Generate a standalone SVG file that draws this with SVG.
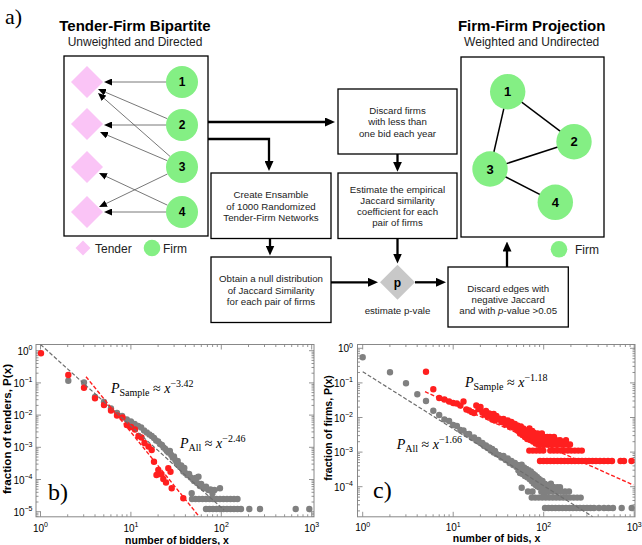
<svg xmlns="http://www.w3.org/2000/svg" width="642" height="545" viewBox="0 0 642 545">
<defs>
<style>
text{font-family:"Liberation Sans",Arial,sans-serif;fill:#000;}
.ser{font-family:"Liberation Serif","Times New Roman",serif;}
.ttl{font-size:15px;font-weight:bold;text-anchor:middle;}
.sub{font-size:12px;text-anchor:middle;fill:#222;}
.box{fill:#fff;stroke:#000;stroke-width:1.3;}
.frm{fill:#fff;stroke:#000;stroke-width:1.3;}
.bt{font-size:9.7px;text-anchor:middle;fill:#222;}
.ten{fill:#fac4f6;}
.firm{fill:#84ef84;}
.num{font-size:12px;font-weight:bold;text-anchor:middle;}
.num2{font-size:13px;font-weight:bold;text-anchor:middle;}
.leg{font-size:12px;fill:#222;}
.thin{stroke:#555;stroke-width:0.8;fill:none;marker-end:url(#ah);}
.thick{stroke:#000;stroke-width:2.3;fill:none;marker-end:url(#AH);}
.edge{stroke:#000;stroke-width:1.5;fill:none;}
.frame{fill:#fff;stroke:#888;stroke-width:1;}
.tick{stroke:#777;stroke-width:0.8;fill:none;}
.tl{font-size:10px;}
.axt{font-size:10.5px;font-weight:bold;text-anchor:middle;}
.dg{stroke:#808080;stroke-width:6.4;stroke-linecap:round;fill:none;}
.dr{stroke:#ff1f1f;stroke-width:6.4;stroke-linecap:round;fill:none;}
.dashr{stroke:#ff1f1f;stroke-width:1.4;stroke-dasharray:4 2;fill:none;}
.dashg{stroke:#6e6e6e;stroke-width:1.2;stroke-dasharray:4 2;fill:none;}
.math{font-family:"Liberation Serif","Times New Roman",serif;font-size:14px;}
</style>
<marker id="ah" markerUnits="userSpaceOnUse" markerWidth="8" markerHeight="7" refX="2" refY="3.5" orient="auto"><path d="M0,0L8,3.5L0,7z" fill="#000"/></marker>
<marker id="AH" markerUnits="userSpaceOnUse" markerWidth="10" markerHeight="9" refX="3" refY="4.5" orient="auto"><path d="M0,0L10,4.5L0,9z" fill="#000"/></marker>
<clipPath id="cb"><rect x="36" y="344.5" width="278" height="172.3"/></clipPath>
<clipPath id="cc"><rect x="357.5" y="344.5" width="277.5" height="172.3"/></clipPath>
<path id="xdec" class="tick" d="M0 516.8v-5M0 344.5v5M27.2 516.8v-2.5M27.2 344.5v2.5M43.2 516.8v-2.5M43.2 344.5v2.5M54.5 516.8v-2.5M54.5 344.5v2.5M63.3 516.8v-2.5M63.3 344.5v2.5M70.4 516.8v-2.5M70.4 344.5v2.5M76.5 516.8v-2.5M76.5 344.5v2.5M81.7 516.8v-2.5M81.7 344.5v2.5M86.4 516.8v-2.5M86.4 344.5v2.5"/>
<path id="ydB" class="tick" d="M36 0h5M314 0h-5M36 -9.7h2.5M314 -9.7h-2.5M36 -15.4h2.5M314 -15.4h-2.5M36 -19.4h2.5M314 -19.4h-2.5M36 -22.5h2.5M314 -22.5h-2.5M36 -25.1h2.5M314 -25.1h-2.5M36 -27.2h2.5M314 -27.2h-2.5M36 -29.1h2.5M314 -29.1h-2.5M36 -30.7h2.5M314 -30.7h-2.5"/>
<path id="ydC" class="tick" d="M357.5 0h5M635 0h-5M357.5 -10.4h2.5M635 -10.4h-2.5M357.5 -16.5h2.5M635 -16.5h-2.5M357.5 -20.8h2.5M635 -20.8h-2.5M357.5 -24.2h2.5M635 -24.2h-2.5M357.5 -26.9h2.5M635 -26.9h-2.5M357.5 -29.2h2.5M635 -29.2h-2.5M357.5 -31.2h2.5M635 -31.2h-2.5M357.5 -33h2.5M635 -33h-2.5"/>
</defs>
<rect width="642" height="545" fill="#fff"/>

<text class="ser" x="5" y="24" font-size="22">a)</text>

<!-- Titles -->
<text class="ttl" x="135" y="31">Tender-Firm Bipartite</text>
<text class="sub" x="135" y="46">Unweighted and Directed</text>
<text class="ttl" x="531.7" y="31">Firm-Firm Projection</text>
<text class="sub" x="531.7" y="46">Weighted and Undirected</text>

<!-- Frames -->
<rect class="frm" x="64" y="56" width="144" height="180"/>
<rect class="frm" x="461" y="57" width="143" height="180"/>

<!-- Connectors -->
<g id="connectors">
<path class="thin" d="M166 82H110"/>
<path class="thin" d="M167.3 118.7L103.5 91.4"/>
<path class="thin" d="M170 156.4L102.5 97"/>
<path class="thin" d="M166 125H110"/>
<path class="thin" d="M167.3 160.7L105.5 134.4"/>
<path class="thin" d="M167.5 205.2L104.4 175.6"/>
<path class="thin" d="M167.6 173.9L104.4 204.4"/>
<path class="thin" d="M166 212H110"/>
<path class="thick" d="M208 122H328"/>
<path class="thick" d="M208 139H269V164"/>
<path class="thick" d="M397.5 154V164.7"/>
<path class="thick" d="M270 238.5V248.5"/>
<path class="thick" d="M331 282.3H371"/>
<path class="thick" d="M397.5 238.5V256.5"/>
<path class="thick" d="M415 282.3H439"/>
<path class="thick" d="M507 267V248.5"/>
<path class="edge" d="M507.7 91.7L574 141.7"/>
<path class="edge" d="M507.7 91.7L490 169"/>
<path class="edge" d="M574 141.7L490 169" stroke-width="4"/>
<path class="edge" d="M490 169L555.3 202.3"/>
</g>

<!-- Bipartite nodes -->
<g id="tender1"><polygon class="ten" points="87,66 103,82 87,98 71,82"/></g>
<g id="tender2"><polygon class="ten" points="87,108 103,124 87,140 71,124"/></g>
<g id="tender3"><polygon class="ten" points="87,151 103,167 87,183 71,167"/></g>
<g id="tender4"><polygon class="ten" points="87,196 103,212 87,228 71,212"/></g>
<g id="firm1"><circle class="firm" cx="182" cy="82" r="16"/><text class="num" x="182" y="86.3">1</text></g>
<g id="firm2"><circle class="firm" cx="182" cy="125" r="16"/><text class="num" x="182" y="129.3">2</text></g>
<g id="firm3"><circle class="firm" cx="182" cy="167" r="16"/><text class="num" x="182" y="171.3">3</text></g>
<g id="firm4"><circle class="firm" cx="182" cy="212" r="16"/><text class="num" x="182" y="216.3">4</text></g>

<g id="legend-left">
<polygon class="ten" points="83,240.5 90.5,248 83,255.5 75.5,248"/>
<text class="leg" x="95" y="252.5">Tender</text>
<circle class="firm" cx="152" cy="248" r="8.3"/>
<text class="leg" x="163" y="252.5">Firm</text>
</g>

<!-- Projection nodes -->
<g id="pfirm1"><circle class="firm" cx="507.7" cy="91.7" r="17.7"/><text class="num2" x="507.7" y="96.2">1</text></g>
<g id="pfirm2"><circle class="firm" cx="574" cy="141.7" r="17.7"/><text class="num2" x="574" y="146.2">2</text></g>
<g id="pfirm3"><circle class="firm" cx="490" cy="169" r="17.7"/><text class="num2" x="490" y="173.5">3</text></g>
<g id="pfirm4"><circle class="firm" cx="555.3" cy="202.3" r="17.7"/><text class="num2" x="555.3" y="206.8">4</text></g>
<g id="legend-right">
<circle class="firm" cx="559" cy="249.3" r="8.3"/>
<text class="leg" x="575" y="253.8">Firm</text>
</g>

<!-- Flowchart boxes -->
<g id="box-discard-firms">
<rect class="box" x="338" y="89" width="119" height="65"/>
<text class="bt" x="397.5" y="114">Discard firms</text>
<text class="bt" x="397.5" y="125.3">with less than</text>
<text class="bt" x="397.5" y="136.6">one bid each year</text>
</g>
<g id="box-estimate">
<rect class="box" x="338" y="173" width="119" height="65.5"/>
<text class="bt" x="397.5" y="192.7">Estimate the empirical</text>
<text class="bt" x="397.5" y="204">Jaccard similarity</text>
<text class="bt" x="397.5" y="215.2">coefficient for each</text>
<text class="bt" x="397.5" y="226.4">pair of firms</text>
</g>
<g id="box-create">
<rect class="box" x="211" y="173" width="120" height="65.5"/>
<text class="bt" x="271" y="198.3">Create Ensamble</text>
<text class="bt" x="271" y="209.6">of 1000 Randomized</text>
<text class="bt" x="271" y="220.9">Tender-Firm Networks</text>
</g>
<g id="box-obtain">
<rect class="box" x="211" y="257" width="120" height="65.5"/>
<text class="bt" x="271" y="282.3">Obtain a null distribution</text>
<text class="bt" x="271" y="293.5">of Jaccard Similarity</text>
<text class="bt" x="271" y="304.6">for each pair of firms</text>
</g>
<g id="node-p">
<polygon points="397.5,264.8 415,282.3 397.5,299.8 380,282.3" fill="#c8c8c8"/>
<text class="num" x="397.5" y="286.5">p</text>
<text class="bt" x="397.5" y="314.3">estimate p-vale</text>
</g>
<g id="box-discard-edges">
<rect class="box" x="448" y="267" width="120.3" height="60"/>
<text class="bt" x="508.2" y="292.3">Discard edges with</text>
<text class="bt" x="508.2" y="303.4">negative Jaccard</text>
<text class="bt" x="508.2" y="314.4">and with <tspan font-style="italic">p</tspan>-value &gt;0.05</text>
</g>

<!-- Plot b -->
<g id="plot-b">
<rect class="frame" x="36" y="344.5" width="278" height="172.3"/>
<g clip-path="url(#cb)">
<use href="#xdec" x="40.5"/><use href="#xdec" x="130.9"/><use href="#xdec" x="221.3"/><use href="#xdec" x="311.7"/>
<use href="#ydB" y="350.7"/><use href="#ydB" y="382.9"/><use href="#ydB" y="415.1"/><use href="#ydB" y="447.3"/><use href="#ydB" y="479.5"/><use href="#ydB" y="511.7"/><use href="#ydB" y="543.9"/>
<path class="dg" d="M68.3 380.7h0M84 382.5h0M95 397h0M104 402h0M111 408.5h0M117 413h0M122.1 416h0M126.8 419.5h0M130.9 421.5h0M134.6 424h0M138.1 426h0M141.2 427.5h0M144.1 430.5h0M146.8 432.5h0M149.4 434.5h0M151.7 436h0M154 438h0M156.1 440.5h0M158.1 441.5h0M160 444h0M161.9 445h0M163.6 447.5h0M165.3 449h0M166.9 451h0M168.4 452.5h0M169.9 451h0M171.3 455h0M172.7 457.5h0M174 456.5h0M175.3 460h0M176.5 462.5h0M177.7 461h0M178.9 465h0M180.1 467h0M181.2 465.5h0M182.3 469h0M183.3 471.5h0M184.3 468h0M185.3 473h0M187.2 475h0M189.1 474h0M190.8 477.5h0M192.5 479h0M194.1 481h0M195.6 478h0M197.1 483h0M198.5 476.7h0M199.9 486h0M201.2 484h0M203.7 488.3h0M206.1 486.7h0M208.4 490h0M210.5 489.5h0M212.5 493.3h0M214.5 490h0M220 488.3h0M191.7 493.3h0
M192 499h0M195.5 499h0M199 499h0M202.5 499h0M206 499h0M209.5 499h0M213 499h0M216.5 499h0M220 499h0M223.5 499h0M227 499h0M230.5 499h0M234 499h0M237.5 499h0
M206 509h0M209.5 509h0M213 509h0M216.5 509h0M220 509h0M223.5 509h0M227 509h0M230.5 509h0M234 509h0M237.5 509h0M241 509h0M249.3 509h0M260 509h0M295.7 509h0M309.3 509h0"/>
<path class="dr" d="M41 353.3h0M68.3 375h0M84 387.7h0M95 398.3h0M104 405h0M111 410.5h0M117 415.5h0M122.5 417.5h0M126.8 425h0M131 427h0M135 429.5h0M138.5 436h0M141.5 437.5h0M144.5 443h0M148.5 446.5h0M151.7 450h0M154 461.7h0M158.3 470h0M156.5 475h0M161.5 474.5h0M163.3 479h0M166 482.5h0M168.3 468.3h0M170.5 471.7h0M171.7 488.3h0M183.3 498.3h0"/>
<path class="dashg" d="M40.5 344.5L224 510"/>
<path class="dashr" d="M86 376.7L199.3 516.7"/>
</g>
<text class="tl" x="40.5" y="531.5" text-anchor="middle">10<tspan dy="-4.5" font-size="7">0</tspan></text>
<text class="tl" x="130.9" y="531.5" text-anchor="middle">10<tspan dy="-4.5" font-size="7">1</tspan></text>
<text class="tl" x="221.3" y="531.5" text-anchor="middle">10<tspan dy="-4.5" font-size="7">2</tspan></text>
<text class="tl" x="311.7" y="531.5" text-anchor="middle">10<tspan dy="-4.5" font-size="7">3</tspan></text>
<text class="tl" x="32.5" y="354.7" text-anchor="end">10<tspan dy="-4.5" font-size="7">0</tspan></text>
<text class="tl" x="32.5" y="386.9" text-anchor="end">10<tspan dy="-4.5" font-size="7">−1</tspan></text>
<text class="tl" x="32.5" y="419.1" text-anchor="end">10<tspan dy="-4.5" font-size="7">−2</tspan></text>
<text class="tl" x="32.5" y="451.3" text-anchor="end">10<tspan dy="-4.5" font-size="7">−3</tspan></text>
<text class="tl" x="32.5" y="483.5" text-anchor="end">10<tspan dy="-4.5" font-size="7">−4</tspan></text>
<text class="tl" x="32.5" y="515.7" text-anchor="end">10<tspan dy="-4.5" font-size="7">−5</tspan></text>
<text class="axt" x="177" y="543.5">number of bidders, x</text>
<text class="axt" transform="translate(11,429) rotate(-90)" x="0" y="0" textLength="130" lengthAdjust="spacingAndGlyphs">fraction of tenders, P(x)</text>
<text class="ser" x="48" y="500" font-size="24">b)</text>
<text class="math" x="111" y="393" fill="#ff4d4d"><tspan font-style="italic">P</tspan><tspan font-size="10" dy="3">Sample</tspan><tspan dy="-3"> ≈ </tspan><tspan font-style="italic">x</tspan><tspan font-size="10" dy="-6">−3.42</tspan></text>
<text class="math" x="180" y="448" fill="#404040"><tspan font-style="italic">P</tspan><tspan font-size="10" dy="3">All</tspan><tspan dy="-3"> ≈ </tspan><tspan font-style="italic">x</tspan><tspan font-size="10" dy="-6">−2.46</tspan></text>
</g>

<!-- Plot c -->
<g id="plot-c">
<rect class="frame" x="357.5" y="344.5" width="277.5" height="172.3"/>
<g clip-path="url(#cc)">
<use href="#xdec" x="362.7"/><use href="#xdec" x="453.2"/><use href="#xdec" x="543.7"/><use href="#xdec" x="634.2"/>
<use href="#ydC" y="348.3"/><use href="#ydC" y="382.9"/><use href="#ydC" y="417.5"/><use href="#ydC" y="452.1"/><use href="#ydC" y="486.7"/><use href="#ydC" y="521.3"/>
<path class="dg" d="M362.7 357.3h0M390 372.3h0M406 383.3h0M417.3 394.3h0M426 401h0M433.3 410.7h0M439.2 415h0M444.4 419.5h0M449.1 421h0M453.2 425h0M456.9 426h0M460.4 430h0M463.5 430.5h0M466.4 434h0M469.1 434h0M471.7 437.5h0M474.1 437.5h0M476.3 440.5h0M478.4 440h0M480.5 443h0M482.4 443h0M484.2 446h0M486 445.5h0M487.6 448h0M489.2 447.5h0M490.8 450.5h0M492.2 449h0M493.7 452.5h0M495 451h0M496.4 454h0M498.9 455h0M501.3 457.5h0M503.5 456h0M505.7 460h0M507.7 458.5h0M509.6 463h0M511.4 461h0M513.2 465h0M514.9 463h0M516.5 467h0
M517.4 465h0M518.3 470.2h0M519.2 467.8h0M520 473.1h0M520.9 469.2h0M521.7 464.8h0M522.5 474h0M523.3 470.5h0M524.1 467.4h0M524.9 476.1h0M525.7 471.8h0M526.5 469h0M527.2 477.3h0M528 473.5h0M528.7 470.2h0M529.5 479h0M530.2 474.1h0M530.9 471.5h0M531.6 481h0M532.3 476.2h0M533 473.8h0M533.7 483.6h0M534.3 478.5h0M535 475.2h0M535.7 484.9h0M536.3 480.1h0M537 477h0M537.6 486.5h0M538.2 481.5h0M538.8 478.8h0M539.5 487.6h0M540.1 483h0M540.7 480.2h0M541.3 491.5h0M541.9 484.2h0M542.5 481h0M543.1 487.2h0M543.7 491.5h0M521.7 487.7h0
M544.5 483.8h0M545.5 487.2h0M546.4 491.5h0M547.3 485h0M549.1 487.2h0M550.9 483.8h0M552.7 488h0M554.5 487.2h0M557.2 487.2h0M560 487.2h0
M528 491.5h0M532.5 491.5h0M545 491.5h0M549 491.5h0M553 491.5h0M557 491.5h0M561 491.5h0M565 491.5h0M569 491.5h0
M531.7 497.6h0M535.2 497.6h0M538.7 497.6h0M542.2 497.6h0M545.7 497.6h0M549.2 497.6h0M552.7 497.6h0M556.2 497.6h0M559.7 497.6h0M563.2 497.6h0M566.7 497.6h0M570.2 497.6h0M573.7 497.6h0M577.2 497.6h0M580.7 497.6h0
M545 508h0M548.5 508h0M552 508h0M555.5 508h0M559 508h0M562.5 508h0M566 508h0M569.5 508h0M573 508h0M576.5 508h0M580 508h0M583.5 508h0M587 508h0M590.5 508h0M594 508h0M599 508h0M604 508h0M608.5 508h0M613 508h0M621.7 508h0M631.7 508h0"/>
<path class="dr" d="M426 371.7h0M433.3 389.3h0M439.2 398h0M444.4 399.5h0M449.1 401.5h0M453.2 403h0M456.9 403.5h0M460.4 405.5h0M463.5 401.5h0M466.4 409.5h0M469.1 410.5h0M471.7 412h0M474.1 413h0M476.3 405.5h0M478.4 409h0M480.5 407h0M482.4 412.5h0M484.2 414.5h0M486 411h0M487.6 416.5h0M489.2 413.5h0M490.8 417h0M492.2 419.5h0M493.7 414h0M495 420.5h0M496.4 416h0M498.9 418.5h0M501.3 422h0M503.5 419h0M505.7 424.5h0M507.7 420.5h0M509.6 426h0M511.4 422h0M513.2 427.5h0M514.9 424h0M516.5 429h0
M517.4 425.5h0M518.3 431h0M519.2 428h0M520 433.5h0M520.9 426.5h0M521.7 430h0M522.5 435h0M523.3 428.5h0M524.1 432.5h0M524.9 437h0M525.7 430.5h0M526.5 434h0M527.2 439h0M528 432h0M528.7 436h0M529.5 428.5h0M530.2 440h0M530.9 434.5h0M531.6 437.5h0M532.3 431h0M533 441.5h0M533.7 436.5h0M534.3 433h0M535 439h0M535.7 443.5h0M536.3 436h0M537 440.5h0M537.6 433.5h0M538.2 444.5h0M538.8 437h0M539.5 440.2h0M540.1 436.9h0M540.7 444.5h0M541.3 440.2h0M541.9 433.5h0M542.5 436.9h0M543.1 444.5h0M543.7 440.2h0M544.5 436.9h0M545.5 444.5h0M546.4 440.2h0M547.3 436.9h0M548.2 444.5h0M549.1 440.2h0M550 436.9h0M551 444.5h0M552 440.2h0M553 444.5h0M554 436.9h0M555 440.2h0M556 444.5h0M557 440.2h0M558 444.5h0M560 440.2h0M562 444.5h0M564 444.5h0M566 440.2h0M568 444.5h0M570 444.5h0
M529.3 450.6h0M532.8 450.6h0M536.3 450.6h0M539.8 450.6h0M543.3 450.6h0M550.3 450.6h0M553.8 450.6h0M557.3 450.6h0M560.8 450.6h0M564.3 450.6h0M567.8 450.6h0M571.3 450.6h0M574.8 450.6h0M578.3 450.6h0M581.8 450.6h0
M540 461h0M543.5 461h0M547 461h0M550.5 461h0M554 461h0M557.5 461h0M561 461h0M564.5 461h0M568 461h0M571.5 461h0M575 461h0M578.5 461h0M582 461h0M585.5 461h0M589 461h0M592.5 461h0M596 461h0M600 461h0M604 461h0M608 461h0M612 461h0M620.5 461h0M624 461h0M631.5 461h0"/>
<path class="dashg" d="M362.7 371.7L592.7 516.7"/>
<path class="dashr" d="M425 391.7L633.3 485"/>
</g>
<text class="tl" x="362.7" y="531" text-anchor="middle">10<tspan dy="-4.5" font-size="7">0</tspan></text>
<text class="tl" x="453.2" y="531" text-anchor="middle">10<tspan dy="-4.5" font-size="7">1</tspan></text>
<text class="tl" x="543.7" y="531" text-anchor="middle">10<tspan dy="-4.5" font-size="7">2</tspan></text>
<text class="tl" x="634.2" y="531" text-anchor="middle">10<tspan dy="-4.5" font-size="7">3</tspan></text>
<text class="tl" x="353" y="352.3" text-anchor="end">10<tspan dy="-4.5" font-size="7">0</tspan></text>
<text class="tl" x="353" y="386.9" text-anchor="end">10<tspan dy="-4.5" font-size="7">−1</tspan></text>
<text class="tl" x="353" y="421.5" text-anchor="end">10<tspan dy="-4.5" font-size="7">−2</tspan></text>
<text class="tl" x="353" y="456.1" text-anchor="end">10<tspan dy="-4.5" font-size="7">−3</tspan></text>
<text class="tl" x="353" y="490.7" text-anchor="end">10<tspan dy="-4.5" font-size="7">−4</tspan></text>
<text class="axt" x="496.5" y="542">number of bids, x</text>
<text class="axt" transform="translate(331.5,428) rotate(-90)" x="0" y="0">fraction of firms, P(x)</text>
<text class="ser" x="373" y="497.5" font-size="24">c)</text>
<text class="math" x="465" y="386.7" fill="#ff4d4d"><tspan font-style="italic">P</tspan><tspan font-size="10" dy="3">Sample</tspan><tspan dy="-3"> ≈ </tspan><tspan font-style="italic">x</tspan><tspan font-size="10" dy="-6">−1.18</tspan></text>
<text class="math" x="396.7" y="449.3" fill="#404040"><tspan font-style="italic">P</tspan><tspan font-size="10" dy="3">All</tspan><tspan dy="-3"> ≈ </tspan><tspan font-style="italic">x</tspan><tspan font-size="10" dy="-6">−1.66</tspan></text>
</g>
</svg>
